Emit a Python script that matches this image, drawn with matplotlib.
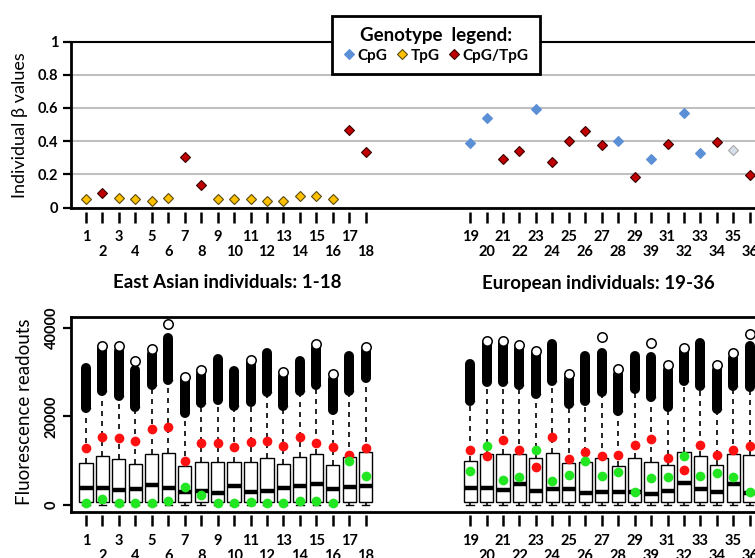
import matplotlib

matplotlib.use("Agg")
import matplotlib.pyplot as plt
import numpy as np
from matplotlib.lines import Line2D

plt.rcParams["font.family"] = ["Lato", "DejaVu Sans"]

# ---------------- data ----------------
individuals = list(range(1, 37))
tick_labels = [str(i) for i in range(1, 30)] + ["39"] + [str(i) for i in range(31, 37)]
group_gap = 5.35  # blank slots between the two populations

beta = [0.050, 0.090, 0.056, 0.050, 0.042, 0.056, 0.304, 0.135, 0.050,
        0.050, 0.050, 0.042, 0.042, 0.070, 0.070, 0.050, 0.467, 0.336,
        0.390, 0.537, 0.292, 0.342, 0.592, 0.272, 0.402, 0.463, 0.376,
        0.402, 0.181, 0.292, 0.382, 0.571, 0.326, 0.396, 0.346, 0.195]
genotype = ["TpG", "CpG/TpG", "TpG", "TpG", "TpG", "TpG", "CpG/TpG", "CpG/TpG", "TpG",
            "TpG", "TpG", "TpG", "TpG", "TpG", "TpG", "TpG", "CpG/TpG", "CpG/TpG",
            "CpG", "CpG", "CpG/TpG", "CpG/TpG", "CpG", "CpG/TpG", "CpG/TpG", "CpG/TpG", "CpG/TpG",
            "CpG", "CpG/TpG", "CpG", "CpG/TpG", "CpG", "CpG", "CpG/TpG", "n/a", "CpG/TpG"]

# fluorescence box summaries
q1 = [600] * 36
whislo = [-150] * 36
med = [3700, 3700, 3300, 3550, 4400, 3700, 2950, 3100, 2700,
       4300, 2950, 3100, 3700, 4300, 4600, 3470, 3900, 4300,
       3850, 3850, 3300, 4800, 3100, 3500, 3500, 2700, 2950,
       2950, 2950, 2400, 3100, 5000, 3470, 2950, 4700, 2700]
q3 = [9360, 11100, 10300, 9300, 11550, 11800, 8800, 9600, 9700,
      9600, 9600, 10650, 9300, 10900, 11500, 9060, 10900, 12000,
      9900, 11600, 11500, 11500, 10600, 11800, 9500, 9600, 10600,
      8760, 10650, 9700, 9100, 11850, 11100, 9100, 11400, 11200]
outlier_lo = [22000, 25800, 24700, 22100, 27100, 28300, 20800, 23000, 23800,
              22400, 23200, 25600, 22400, 25800, 27100, 21500, 25800, 28600,
              23600, 27700, 27900, 27100, 25100, 28100, 22800, 23600, 25600,
              21300, 26200, 24300, 22100, 28100, 27000, 21700, 27000, 26600]
outlier_hi = [31000, 35200, 34800, 30600, 34200, 37800, 28400, 29500, 32900,
              30200, 32100, 34400, 29100, 32500, 35500, 28400, 33700, 34800,
              31900, 36400, 36300, 35300, 34200, 36300, 28700, 33700, 34400,
              29650, 33700, 33400, 30600, 34800, 36700, 30600, 33300, 35900]
outlier_max = [np.nan, 35900, 36000, 32500, 35200, 41000, 29000, 30500, np.nan,
               np.nan, 32800, np.nan, 30100, np.nan, 36300, 29700, np.nan, 35800,
               np.nan, 37100, 37000, 36200, 34900, np.nan, 29600, np.nan, 38000,
               30650, np.nan, 36700, 31600, 35400, np.nan, 31600, 34300, 38650]
red_dot = [12900, 15400, 15000, 14500, 17060, 17500, 9900, 14000, 14000,
           13100, 14100, 14500, 13400, 15300, 14000, 13100, 11300, 12900,
           12400, 11100, 14600, 12400, 8500, 15300, 10300, 11900, 11000,
           11200, 13500, 14800, 10500, 7850, 13500, 11250, 12400, 13300]
green_dot = [380, 1200, 500, 500, 500, 750, 3900, 2100, 300,
             450, 600, 380, 380, 900, 830, 450, 9900, 6500,
             7700, 13300, 5700, 6200, 12400, 5400, 6800, 9900, 6600,
             7500, 2900, 6000, 6200, 11000, 6500, 7250, 6300, 2950]

styles = {
    "CpG": dict(mfc="#5b8fd6", mec="#5b8fd6"),
    "TpG": dict(mfc="#ffc000", mec="#5a4a10"),
    "CpG/TpG": dict(mfc="#c00000", mec="#3a0000"),
    "n/a": dict(mfc="#d6deea", mec="#a8a8a8"),
}

pos = np.array([i if i <= 18 else i + group_gap for i in individuals], dtype=float)
W, H = 755, 558
XLIM = (0.088, 42.5)
TICK_FS = 10.5


def fig_rect(left, top, right, bottom):
    return [left / W, 1 - bottom / H, (right - left) / W, (bottom - top) / H]


def add_xticks(ax, loc, pad_odd, pad_even):
    sec = ax.secondary_xaxis(loc)
    sec.spines["bottom"].set_visible(False)
    sec.set_xticks(pos[0::2], tick_labels[0::2])
    sec.set_xticks(pos[1::2], tick_labels[1::2], minor=True)
    sec.tick_params(which="both", direction="out", length=8, width=1.8, labelsize=TICK_FS)
    sec.tick_params(which="major", pad=pad_odd)
    sec.tick_params(which="minor", pad=pad_even)
    for lab in sec.get_xticklabels(which="both"):
        lab.set_fontweight("bold")


fig = plt.figure(figsize=(W / 100, H / 100), dpi=100)

# ---------------- top: beta values ----------------
right_px = 86 + (XLIM[1] - 1) * 16.45
ax1 = fig.add_axes(fig_rect(71, 41.5, right_px, 207.5))
ax1.set_xlim(*XLIM)
ax1.set_ylim(0, 1)
ax1.set_yticks([0, 0.2, 0.4, 0.6, 0.8, 1], ["0", "0.2", "0.4", "0.6", "0.8", "1"])
ax1.set_xticks([])
ax1.yaxis.grid(True, color="#c0c0c0", lw=1.5)
ax1.set_axisbelow(True)
ax1.tick_params(axis="y", direction="out", length=6, width=1.6, labelsize=TICK_FS, pad=3)
for lab in ax1.get_yticklabels():
    lab.set_fontweight("bold")
ax1.spines["right"].set_visible(False)
ax1.spines["left"].set_linewidth(2)
ax1.spines["bottom"].set_linewidth(2)
ax1.spines["top"].set_linewidth(1.5)
for g in styles:
    idx = [i for i, gt in enumerate(genotype) if gt == g]
    ax1.plot(pos[idx], np.array(beta)[idx], ls="", marker="D", ms=5.4, mew=0.8, zorder=3,
             clip_on=False, **styles[g])
add_xticks(ax1, -0.03, 4.5, 15.5)

handles = [Line2D([], [], ls="", marker="D", ms=5.6, mew=0.8, label=g, **styles[g])
           for g in ["CpG", "TpG", "CpG/TpG"]]
leg = ax1.legend(handles=handles, ncol=3, title="Genotype  legend:", loc="center",
                 bbox_to_anchor=(436 / W, 1 - 45 / H), bbox_transform=fig.transFigure,
                 frameon=True, fancybox=False, edgecolor="black", framealpha=1,
                 handlelength=0.7, handletextpad=0.2, columnspacing=0.6, borderpad=0.75,
                 borderaxespad=0, labelspacing=0.3,
                 prop={"weight": "bold", "size": 11},
                 title_fontproperties={"weight": "bold", "size": 13.5})
leg.get_frame().set_linewidth(2)

fig.text(20 / W, 1 - 125 / H, "Individual β values", rotation=90, ha="center", va="center",
         fontsize=13)
fig.text(227 / W, 1 - 283 / H, "East Asian individuals: 1-18", ha="center", va="center",
         fontsize=13.5, fontweight="bold")
fig.text(598 / W, 1 - 283 / H, "European individuals: 19-36", ha="center", va="center",
         fontsize=13.5, fontweight="bold")

# ---------------- bottom: fluorescence boxplots ----------------
ax2 = fig.add_axes(fig_rect(71, 317, right_px, 512))
ax2.set_xlim(*XLIM)
ax2.set_ylim(-1650, 42520)
stats = [dict(med=m, q1=a, q3=b, whislo=lo, whishi=hi, fliers=[])
         for m, a, b, lo, hi in zip(med, q1, q3, whislo, outlier_lo)]
ax2.bxp(stats, positions=pos, widths=0.8, patch_artist=True, showfliers=False,
        manage_ticks=False, capwidths=0.45,
        boxprops=dict(facecolor="white", edgecolor="black", lw=1.0),
        medianprops=dict(color="black", lw=3.2, solid_capstyle="butt"),
        whiskerprops=dict(color="black", lw=1.2, ls=(0, (3, 3))),
        capprops=dict(color="black", lw=1.0))
blobs = ax2.vlines(pos, outlier_lo, outlier_hi, colors="black", lw=7.2, zorder=3)
blobs.set_capstyle("round")
ax2.plot(pos, outlier_max, ls="", marker="o", ms=6.8, mfc="white", mec="black", mew=1.1, zorder=3.5)
ax2.plot(pos, red_dot, ls="", marker="o", ms=7, color="#ff1010", mew=0, zorder=4)
ax2.plot(pos, green_dot, ls="", marker="o", ms=7, color="#22e622", mew=0, zorder=4)
ax2.set_xticks([])
ax2.set_yticks([0, 20000, 40000], ["0", "20000", "40000"])
ax2.tick_params(axis="y", direction="out", length=6, width=1.6, labelsize=TICK_FS, pad=3)
for lab in ax2.get_yticklabels():
    lab.set_fontweight("bold")
    lab.set_rotation(90)
    lab.set_va("center")
for s in ax2.spines.values():
    s.set_linewidth(2)
add_xticks(ax2, -0.015, 5.5, 16.5)

fig.text(25 / W, 1 - 412 / H, "Fluorescence readouts", rotation=90, ha="center", va="center",
         fontsize=13.5)

fig.savefig("out.png", dpi=100)
